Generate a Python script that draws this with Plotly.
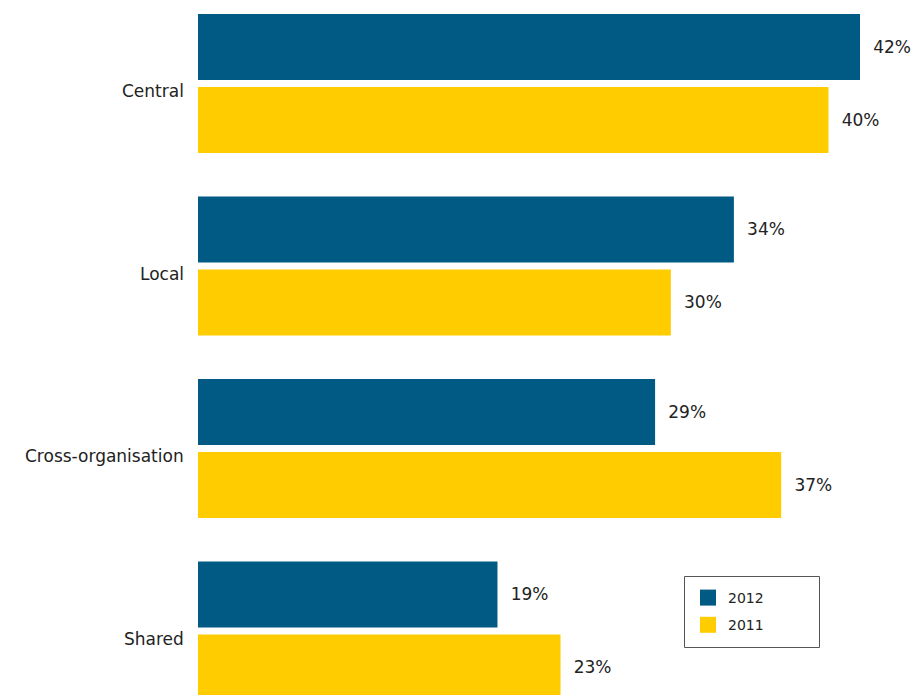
import plotly.graph_objects as go

categories = ["Central", "Local", "Cross-organisation", "Shared"]
values_2012 = [42, 34, 29, 19]
values_2011 = [40, 30, 37, 23]
series_names = ["2012", "2011"]

BLUE = "#005A84"
YELLOW = "#FFCC00"
FONT = "'DejaVu Sans', 'Open Sans', sans-serif"
TEXT_COLOR = "#222222"

W, H = 912, 695
ML = 198

fig = go.Figure()
for name, vals, col in [(series_names[0], values_2012, BLUE), (series_names[1], values_2011, YELLOW)]:
    fig.add_trace(go.Bar(
        y=categories, x=vals, orientation="h", name=name,
        marker=dict(color=col, line=dict(width=0)),
        text=[f"\u2002\u200a{v}%" for v in vals],
        textposition="outside", cliponaxis=False,
        textfont=dict(family=FONT, size=17, color=TEXT_COLOR),
        showlegend=False, legendgroup=name,
    ))
    fig.add_trace(go.Scatter(
        x=[None], y=[None], mode="markers", name=name, legendgroup=name,
        marker=dict(symbol="square", size=18, color=col),
        showlegend=True,
    ))

# category labels (slightly below the group centre, as in the original)
for cat in categories:
    fig.add_annotation(x=0, y=cat, xref="x", yref="y", text=cat, showarrow=False,
                       xanchor="right", yanchor="middle", xshift=-12, yshift=-7.5,
                       font=dict(family=FONT, size=17, color=TEXT_COLOR))

pw = W - ML
def px_x(x):  # window x -> paper
    return (x - ML) / pw
def px_y(y):  # window y -> paper
    return 1 - y / H

fig.add_shape(type="rect", xref="paper", yref="paper",
              x0=px_x(684.5), x1=px_x(819.5), y0=px_y(576.5), y1=px_y(647.5),
              line=dict(color="#555555", width=1), fillcolor="white", layer="below")

fig.update_layout(
    width=W, height=H,
    margin=dict(l=ML, r=0, t=0, b=0),
    paper_bgcolor="white", plot_bgcolor="rgba(0,0,0,0)",
    barmode="group", bargap=0.2, bargroupgap=0.096,
    font=dict(family=FONT, color=TEXT_COLOR),
    xaxis=dict(range=[0, 45.3], showgrid=False, zeroline=False,
               showticklabels=False, showline=False, ticks=""),
    yaxis=dict(categoryorder="array", categoryarray=categories,
               range=[3.3507, -0.4575], showgrid=False, zeroline=False,
               showline=False, ticks="", showticklabels=False),
    legend=dict(x=px_x(688), y=px_y(582), xanchor="left", yanchor="top",
                bgcolor="rgba(0,0,0,0)", borderwidth=0,
                font=dict(family=FONT, size=14, color=TEXT_COLOR),
                traceorder="grouped", tracegroupgap=6),
)

fig.write_html("out.html", config={"displayModeBar": False},
               post_script="document.body.style.margin='0';")
